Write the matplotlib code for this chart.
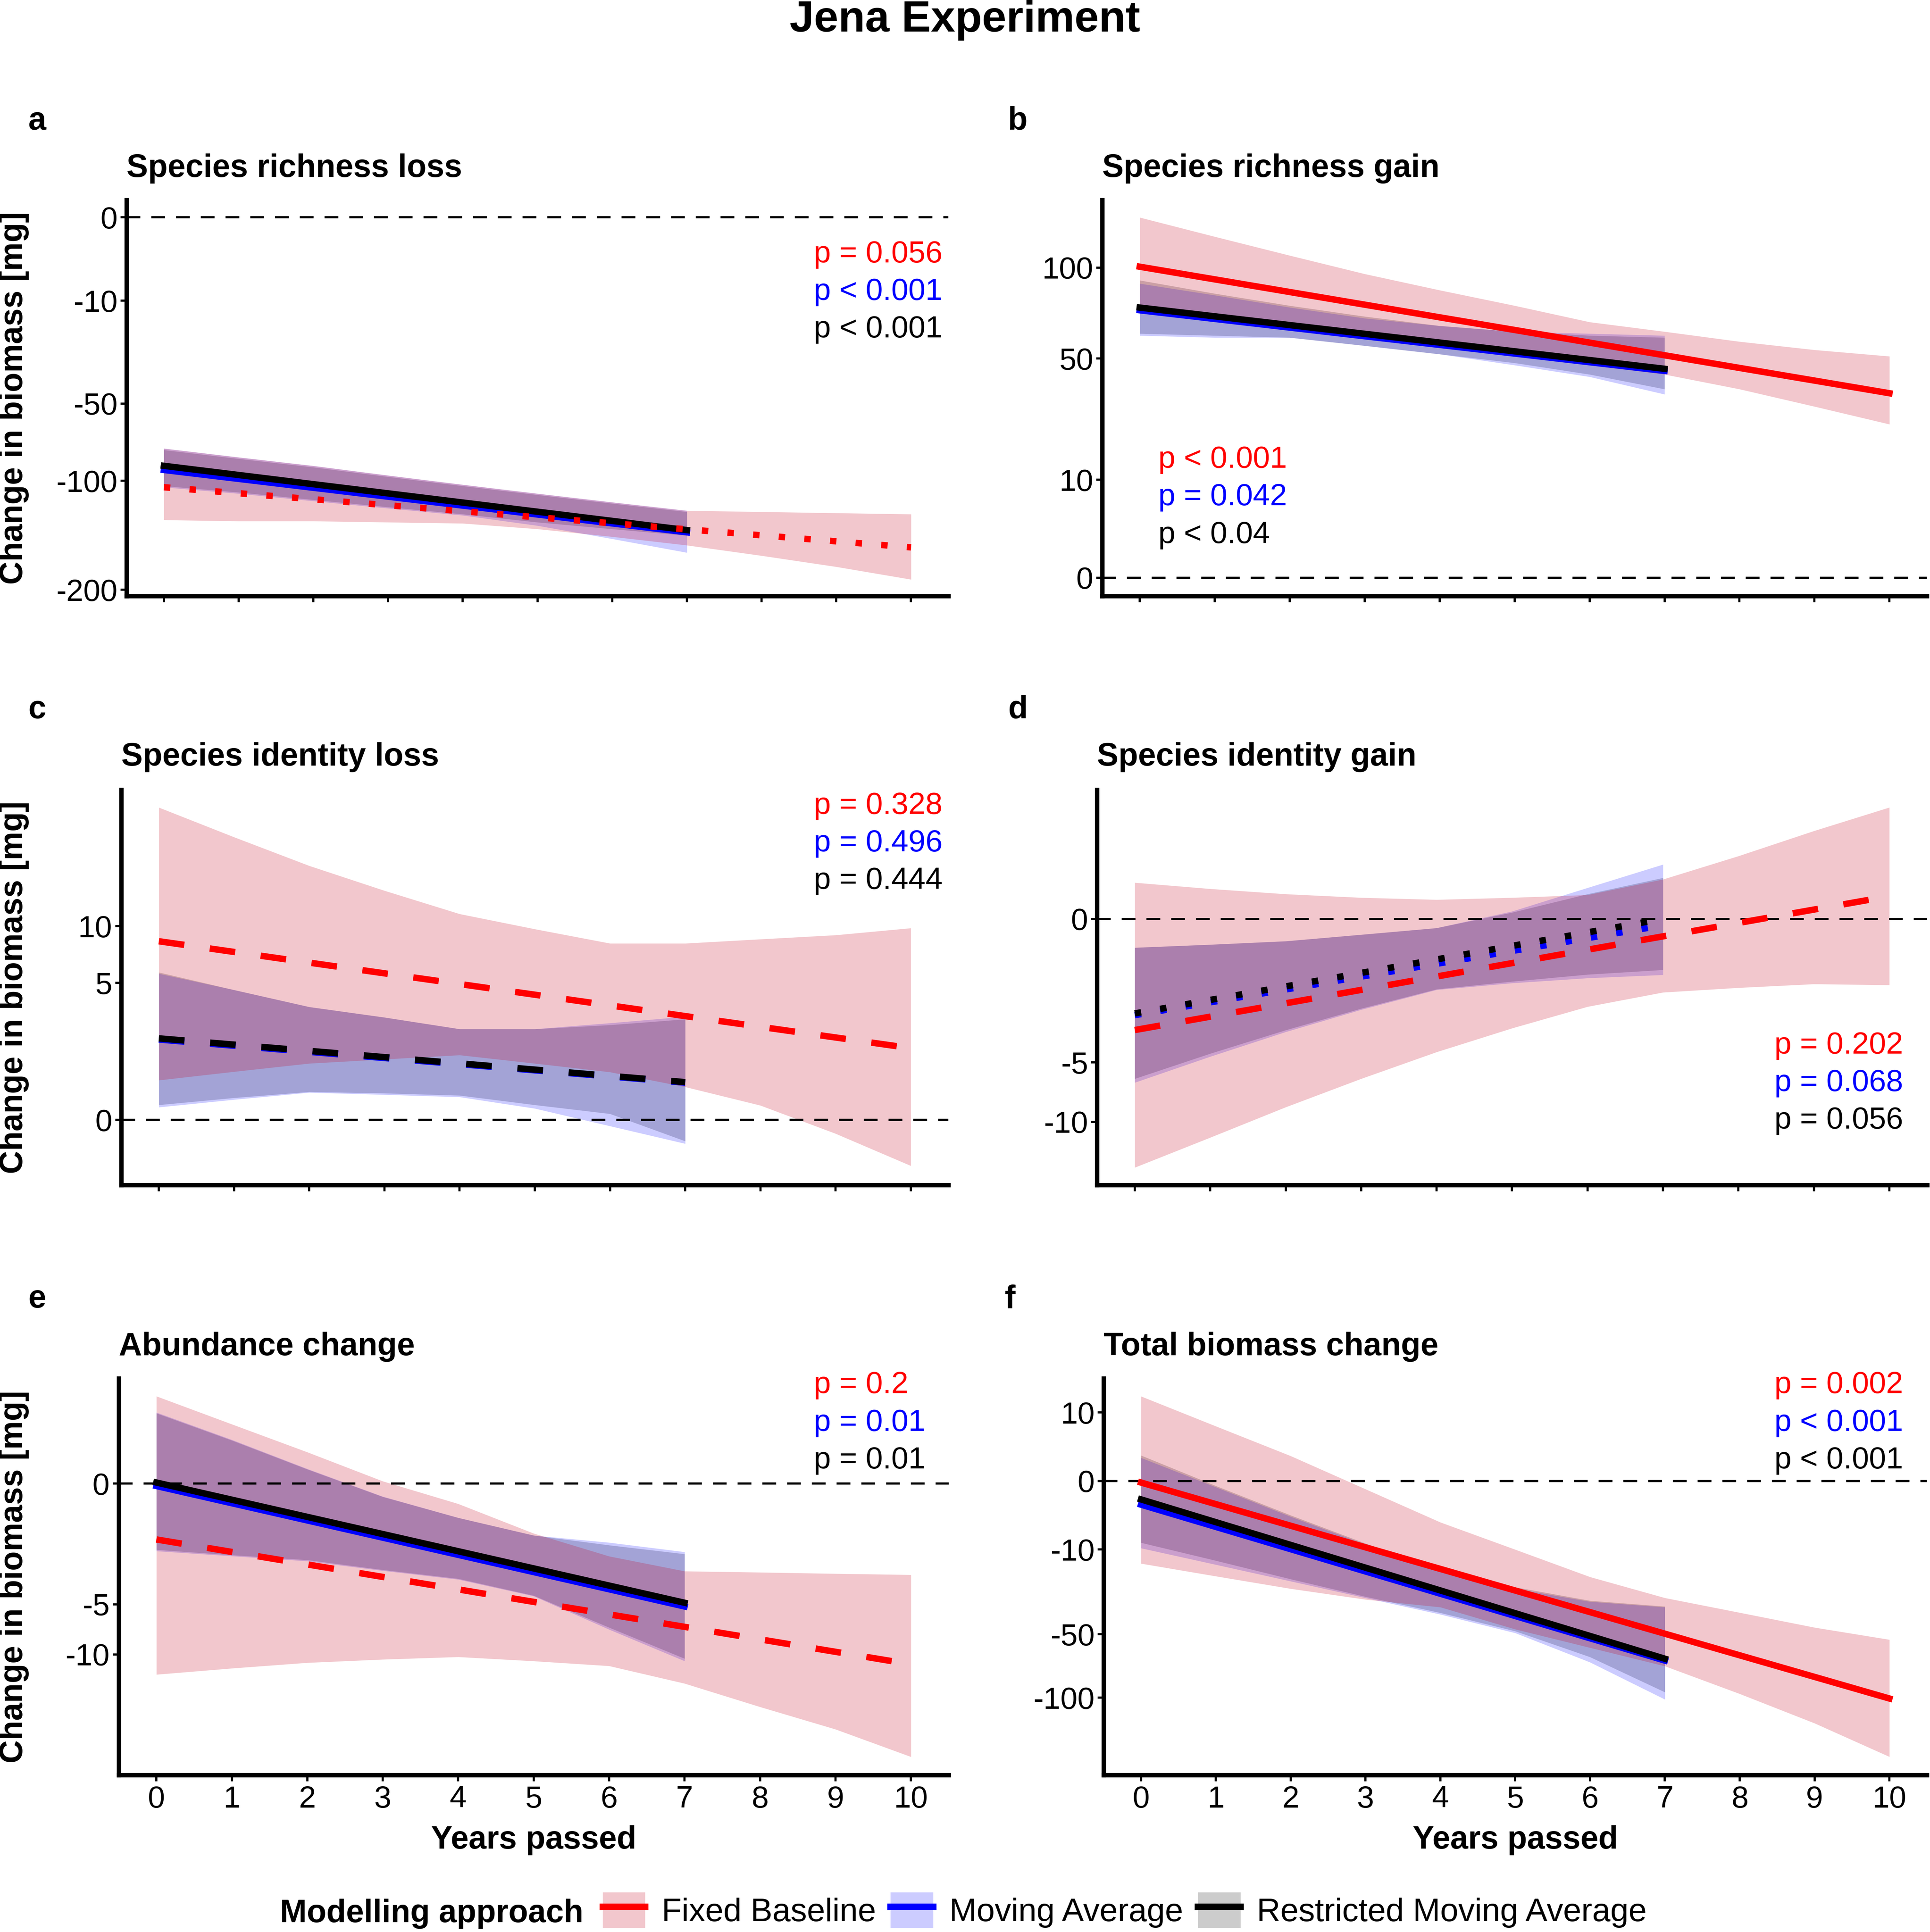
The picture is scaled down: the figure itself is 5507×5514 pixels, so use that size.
import numpy as np
import matplotlib
matplotlib.use("Agg")
import matplotlib.pyplot as plt
from matplotlib.patches import Patch
from matplotlib.lines import Line2D

plt.rcParams['font.family'] = ['Liberation Sans', 'DejaVu Sans']

# ---------------- data (mg) ----------------
years_fb = [0, 1, 2, 3, 4, 5, 6, 7, 8, 9, 10]   # fixed baseline
years_ma = [0, 1, 2, 3, 4, 5, 6, 7]             # moving averages
fit_x_fb = [0, 10]
fit_x_ma = [0, 7]

# a  Species richness loss
a_fb_lo = [-132, -133, -133, -134, -135, -140, -147, -155, -165, -176, -189]
a_fb_hi = [-77, -83, -89, -96, -103, -110, -117, -124, -125, -126, -127]
a_ma_lo = [-105, -110, -116, -122, -128, -137, -149, -162]
a_ma_hi = [-77, -83, -89, -96, -103, -110, -117, -124]
a_rma_lo = [-104, -109, -115, -121, -127, -134, -140, -146]
a_rma_hi = [-78, -84, -90, -97, -104, -111, -118, -125]
a_fb_fit = [-105, -157]
a_ma_fit = [-92, -143]
a_rma_fit = [-89, -141]

# b  Species richness gain
b_fb_lo = [77, 71, 66, 60, 55, 51, 47, 43, 37, 30.5, 24.5]
b_fb_hi = [135, 121, 108, 96, 86, 77, 68, 63, 58, 54, 51]
b_ma_lo = [61, 60, 60, 56, 52, 47, 42, 35]
b_ma_hi = [90, 83, 76, 70, 66, 63, 62, 61]
b_rma_lo = [62, 61, 60, 56, 52, 48, 43, 37]
b_rma_hi = [92, 84, 77, 71, 66, 63, 61, 60]
b_fb_fit = [100.6, 35.4]
b_ma_fit = [74.4, 44.5]
b_rma_fit = [75.9, 45.4]

# c  Species identity loss
c_fb_lo = [0.42, 0.62, 0.85, 0.98, 1.12, 0.85, 0.61, 0.29, 0.056, -0.05, -0.56]
c_fb_hi = [26.0, 21.3, 17.2, 14.0, 11.3, 9.7, 8.3, 8.3, 8.7, 9.1, 9.8]
c_ma_lo = [0.043, 0.11, 0.20, 0.17, 0.14, 0.035, -0.01, -0.15]
c_ma_hi = [5.7, 4.5, 3.4, 2.8, 2.2, 2.2, 2.5, 2.84]
c_rma_lo = [0.06, 0.13, 0.21, 0.19, 0.16, 0.06, 0.01, -0.12]
c_rma_hi = [5.8, 4.5, 3.4, 2.8, 2.2, 2.2, 2.4, 2.7]
c_fb_fit = [8.5, 1.37]
c_ma_fit = [1.72, 0.37]
c_rma_fit = [1.77, 0.38]

# d  Species identity gain
d_fb_lo = [-15.0, -11.6, -8.6, -6.2, -4.3, -2.9, -1.87, -1.31, -1.15, -1.03, -1.06]
d_fb_hi = [0.32, 0.22, 0.15, 0.11, 0.09, 0.11, 0.14, 0.38, 0.96, 1.88, 3.02]
d_ma_lo = [-6.5, -4.6, -3.1, -2.0, -1.22, -1.0, -0.85, -0.76]
d_ma_hi = [-0.20, -0.16, -0.12, -0.06, -0.02, 0.014, 0.235, 0.72]
d_rma_lo = [-6.2, -4.4, -3.0, -1.95, -1.2, -0.95, -0.75, -0.63]
d_rma_hi = [-0.20, -0.16, -0.12, -0.06, -0.02, 0.01, 0.15, 0.41]
d_fb_fit = [-3.0, 0.125]
d_ma_fit = [-2.25, -0.01]
d_rma_fit = [-2.17, 0.0]

# e  Abundance change
e_fb_lo = [-12.5, -11.7, -11.0, -10.6, -10.3, -10.8, -11.4, -13.7, -17.1, -20.7, -25.6]
e_fb_hi = [2.62, 1.21, 0.34, 0.002, -0.14, -0.85, -1.81, -2.63, -2.7, -2.78, -2.85]
e_ma_lo = [-1.56, -1.8, -2.06, -2.6, -3.15, -4.34, -7.3, -10.8]
e_ma_hi = [1.74, 0.66, 0.075, -0.057, -0.40, -0.92, -1.19, -1.6]
e_rma_lo = [-1.5, -1.75, -2.0, -2.55, -3.1, -4.3, -7.1, -10.5]
e_rma_hi = [1.70, 0.64, 0.07, -0.06, -0.40, -0.92, -1.3, -1.7]
e_fb_fit = [-1.07, -11.2]
e_ma_fit = [-0.002, -5.18]
e_rma_fit = [0.0004, -4.87]

# f  Total biomass change
f_fb_lo = [-14.5, -19.3, -24.7, -29.9, -33.9, -46.8, -59.2, -73, -96.5, -125, -162]
f_fb_hi = [15.3, 6.4, 1.34, -0.14, -3.63, -10.0, -19.6, -29.1, -36.9, -45.7, -53.6]
f_ma_lo = [-9.6, -14.9, -21.4, -29.1, -37.9, -49.2, -70, -101.6]
f_ma_hi = [1.15, -0.08, -2.7, -8.6, -17, -24.7, -31, -33.9]
f_rma_lo = [-8.1, -13.5, -20.5, -28.5, -37, -48, -66, -95]
f_rma_hi = [1.4, -0.05, -2.5, -8.3, -16.5, -24, -30.5, -33.5]
f_fb_fit = [-0.005, -100.8]
f_ma_fit = [-1.19, -68.7]
f_rma_fit = [-0.72, -67.3]

titles = ["Species richness loss", "Species richness gain", "Species identity loss",
          "Species identity gain", "Abundance change", "Total biomass change"]
tags = ["a", "b", "c", "d", "e", "f"]
yticks = [[0, -10, -50, -100, -200], [0, 10, 50, 100], [0, 5, 10],
          [0, -5, -10], [0, -5, -10], [10, 0, -10, -50, -100]]
ylims = [(-206.8, 0.43), (-0.35, 148.3), (-1.13, 29.0),
         (-17.2, 4.04), (-29.1, 3.79), (-184, 22.4)]
pvals = [["p = 0.056", "p < 0.001", "p < 0.001"],
         ["p < 0.001", "p = 0.042", "p < 0.04"],
         ["p = 0.328", "p = 0.496", "p = 0.444"],
         ["p = 0.202", "p = 0.068", "p = 0.056"],
         ["p = 0.2", "p = 0.01", "p = 0.01"],
         ["p = 0.002", "p < 0.001", "p < 0.001"]]
# linestyle per model (fixed, moving, restricted): solid p<.05, dotted p<.1, dashed otherwise
styles = [["dot", "solid", "solid"], ["solid", "solid", "solid"], ["dash", "dash", "dash"],
          ["dash", "dot", "dot"], ["dash", "solid", "solid"], ["solid", "solid", "solid"]]

panel_data = [
    (a_fb_lo, a_fb_hi, a_ma_lo, a_ma_hi, a_rma_lo, a_rma_hi, a_fb_fit, a_ma_fit, a_rma_fit),
    (b_fb_lo, b_fb_hi, b_ma_lo, b_ma_hi, b_rma_lo, b_rma_hi, b_fb_fit, b_ma_fit, b_rma_fit),
    (c_fb_lo, c_fb_hi, c_ma_lo, c_ma_hi, c_rma_lo, c_rma_hi, c_fb_fit, c_ma_fit, c_rma_fit),
    (d_fb_lo, d_fb_hi, d_ma_lo, d_ma_hi, d_rma_lo, d_rma_hi, d_fb_fit, d_ma_fit, d_rma_fit),
    (e_fb_lo, e_fb_hi, e_ma_lo, e_ma_hi, e_rma_lo, e_rma_hi, e_fb_fit, e_ma_fit, e_rma_fit),
    (f_fb_lo, f_fb_hi, f_ma_lo, f_ma_hi, f_rma_lo, f_rma_hi, f_fb_fit, f_ma_fit, f_rma_fit),
]

# ---------------- layout (positions on a 1568 x 1570 grid) ----------------
GW, GH = 1568.0, 1570.0
def fx(p): return p / GW
def fy(p): return 1 - p / GH

boxes = [(102.8, 162.6, 770.5, 484.4), (895.5, 162.6, 1565.5, 484.4),
         (98.5, 641.9, 770.5, 963.0), (891.3, 641.9, 1565.6, 963.0),
         (96.4, 1120.2, 770.7, 1442.3), (896.6, 1120.2, 1565.4, 1442.3)]
tag_pos = [(23, 105.3), (819, 105.3), (23, 583.8), (819, 583.8), (23, 1062.7), (816, 1062.7)]
title_base = [143.8, 143.8, 622.0, 622.0, 1101.3, 1101.3]
p_pos = [(661, 213.3), (941, 380.2), (661, 661.5), (1441.5, 856.2), (661, 1132.2), (1441.5, 1132.2)]
p_step = 30.5

LW = 4.4
LS = {"solid": "-", "dash": (0, (4, 4)), "dot": (0, (1, 3))}
cols = ["red", "blue", "black"]
fills = ["#C8001C", "blue", "black"]
alphas = [0.22, 0.2, 0.2]


def fwd(v):
    v = np.asarray(v, dtype=float)
    return np.sign(v) * np.sqrt(np.abs(v))


def inv(t):
    t = np.asarray(t, dtype=float)
    return np.sign(t) * t ** 2


fig = plt.figure(figsize=(5507 / 300, 5514 / 300), dpi=300)

fig.text(0.5, fy(90 / 3.512), "Jena Experiment", ha="center", va="baseline",
         fontsize=30, fontweight="bold")

for i in range(6):
    l, t, r, b = boxes[i]
    ax = fig.add_axes([fx(l), fy(b), fx(r) - fx(l), fy(t) - fy(b)])
    ax.set_yscale("function", functions=(fwd, inv))
    fb_lo, fb_hi, ma_lo, ma_hi, rma_lo, rma_hi, fb_fit, ma_fit, rma_fit = panel_data[i]

    # ribbons: restricted, moving, fixed (fixed on top)
    ax.fill_between(years_ma, rma_lo, rma_hi, color=fills[2], alpha=alphas[2], lw=0, zorder=1)
    ax.fill_between(years_ma, ma_lo, ma_hi, color=fills[1], alpha=alphas[1], lw=0, zorder=1.1)
    ax.fill_between(years_fb, fb_lo, fb_hi, color=fills[0], alpha=alphas[0], lw=0, zorder=1.2)

    ax.axhline(0, color="black", lw=1.5, ls=(0, (6.3, 5)), zorder=2)

    st = styles[i]
    ax.plot(fit_x_ma, ma_fit, color="blue", lw=LW, ls=LS[st[1]], zorder=3)
    ax.plot(fit_x_ma, rma_fit, color="black", lw=LW, ls=LS[st[2]], zorder=3.1)
    ax.plot(fit_x_fb, fb_fit, color="red", lw=LW, ls=LS[st[0]], zorder=3.2)

    ax.set_xlim(-0.5, 10.5)
    ax.set_ylim(*ylims[i])
    ax.set_xticks(range(0, 11))
    ax.set_yticks(yticks[i])
    ax.set_yticklabels([str(v) for v in yticks[i]])
    ax.yaxis.set_minor_locator(matplotlib.ticker.NullLocator())

    for s in ["top", "right"]:
        ax.spines[s].set_visible(False)
    for s in ["left", "bottom"]:
        ax.spines[s].set_linewidth(3.0)
    ax.tick_params(axis="both", length=4.2, width=1.5, labelsize=21, color="black")
    ax.tick_params(axis="y", pad=2)
    ax.tick_params(axis="x", pad=3)
    if i < 4:
        ax.tick_params(axis="x", labelbottom=False)
    else:
        fig.text((fx(l) + fx(r)) / 2, fy(1502.2), "Years passed", ha="center",
                 va="baseline", fontsize=22, fontweight="bold")
    if i % 2 == 0:
        fig.text(fx(11.4), (fy(t) + fy(b)) / 2, "Change in biomass [mg]", rotation=90,
                 ha="center", va="center", fontsize=22, fontweight="bold")

    fig.text(fx(l), fy(title_base[i]), titles[i], ha="left", va="baseline",
             fontsize=22, fontweight="bold")
    fig.text(fx(tag_pos[i][0]), fy(tag_pos[i][1]), tags[i], ha="left", va="baseline",
             fontsize=22, fontweight="bold")

    px, py = p_pos[i]
    for k in range(3):
        fig.text(fx(px), fy(py + k * p_step), pvals[i][k], color=cols[k],
                 ha="left", va="baseline", fontsize=21)

# ---------------- legend ----------------
labels = ["Fixed Baseline", "Moving Average", "Restricted Moving Average"]
handles = [(Patch(facecolor=fc, alpha=al, lw=0), Line2D([], [], color=c, lw=LW))
           for fc, al, c in zip(fills, alphas, cols)]
fig.legend(handles, labels, loc="center left", bbox_to_anchor=(fx(489.7), fy(1552.4)),
           ncol=3, frameon=False, fontsize=22.4, borderpad=0, borderaxespad=0,
           handlelength=1.3, handleheight=1.3, handletextpad=0.5, columnspacing=0.45)
fig.text(fx(227.6), fy(1561.9), "Modelling approach", ha="left", va="baseline",
         fontsize=22, fontweight="bold")

fig.savefig("out.png", dpi=300)
